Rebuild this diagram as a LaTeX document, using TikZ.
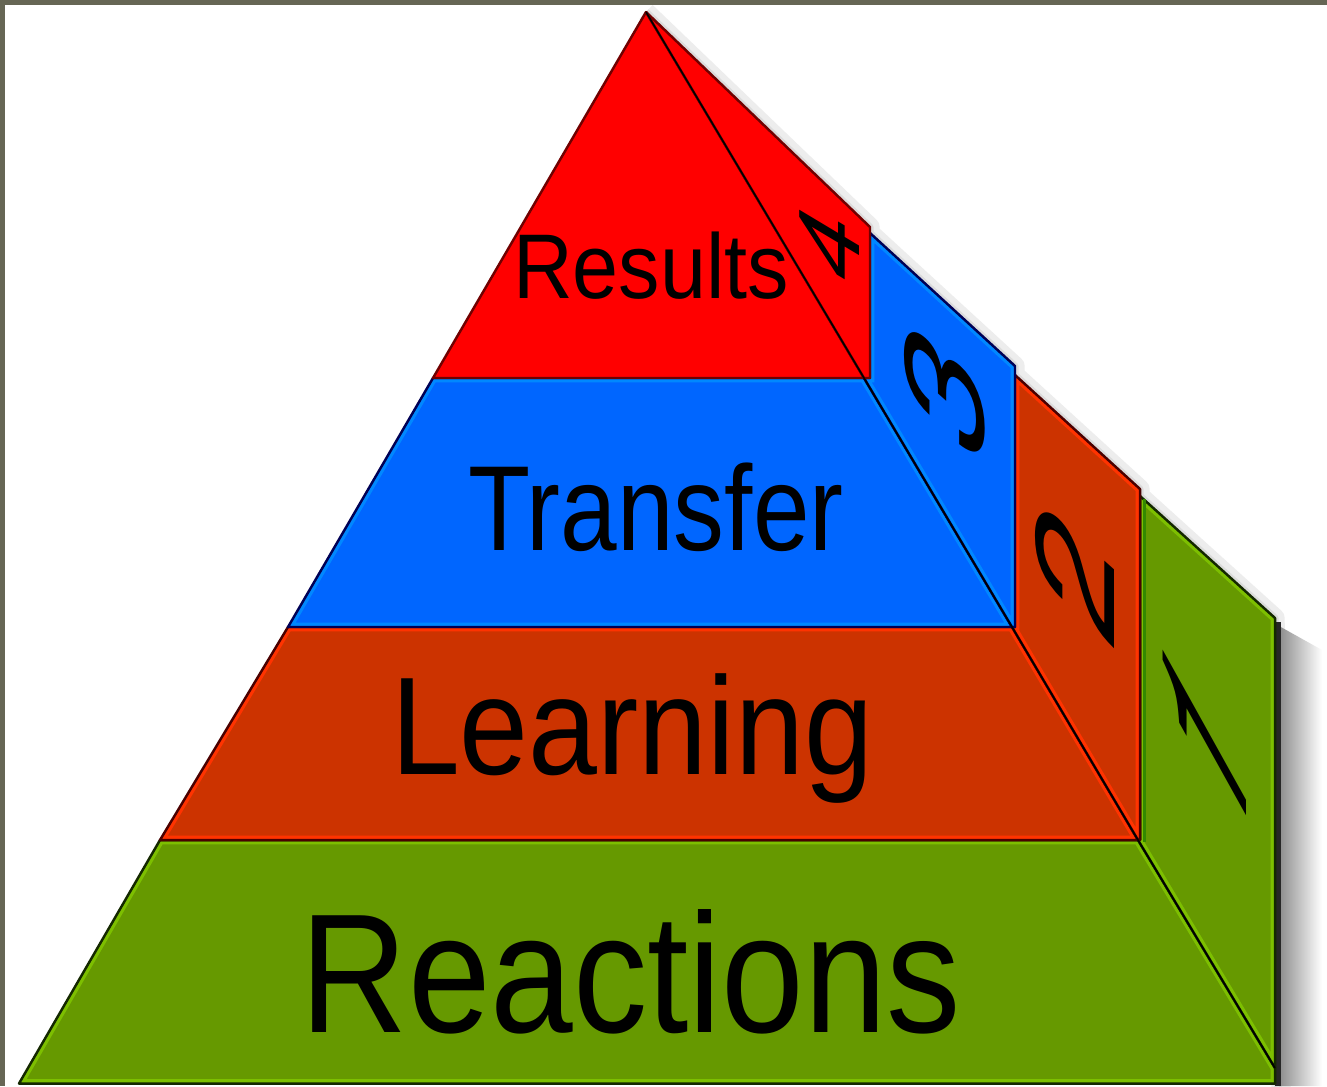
\documentclass[tikz,border=0pt]{standalone}
\usepackage{fontspec}
\setmainfont{Liberation Sans}
\newfontfamily\digitfont{TeX Gyre Heros}
\usepackage{graphicx}
\definecolor{redM}{HTML}{FF0000}
\definecolor{redD}{HTML}{700000}
\definecolor{blueM}{HTML}{0066FF}
\definecolor{blueH}{HTML}{0088FF}
\definecolor{blueD}{HTML}{000055}
\definecolor{orgM}{HTML}{CC3300}
\definecolor{orgH}{HTML}{FF3300}
\definecolor{orgD}{HTML}{4A0000}
\definecolor{grnM}{HTML}{669900}
\definecolor{grnH}{HTML}{7DBF00}
\definecolor{grnD}{HTML}{142800}
\definecolor{grnS}{HTML}{338800}
\definecolor{frameC}{HTML}{666655}
\newcommand\tierface[4]{%
  \begin{scope}
    \clip #1 -- cycle;
    \fill[#2] #1 -- cycle;
    \draw[#3, line width=5pt] #1 -- cycle;
  \end{scope}
  \draw[#4, line width=1.4pt, line join=round] #1 -- cycle;
}
\tikzset{
  tiertext/.style={anchor=base, inner sep=0pt, text=black},
  numlabel/.style={inner sep=0pt, transform shape, text=black},
}
\begin{document}
\begin{tikzpicture}[x=0.02cm, y=-0.02cm]
\useasboundingbox (0,0) rectangle (1327,1086);
\clip (0,0) rectangle (1327,1086);
\fill[white] (0,0) rectangle (1327,1086);
% frame strips
\fill[frameC] (0,0) rectangle (1327,4.5);
\fill[frameC] (0,0) rectangle (4.5,1086);

% key points
\coordinate (A) at (646,12);
\coordinate (L1) at (433,378);  \coordinate (D1) at (864,378);  \coordinate (E1) at (870,378);
\coordinate (L2) at (288,627);  \coordinate (D2) at (1012,627); \coordinate (E2) at (1015,627);
\coordinate (L3) at (160,840);  \coordinate (D3) at (1138,840); \coordinate (E3) at (1140,840);
\coordinate (L4) at (19,1083.5);  \coordinate (D4) at (1275,1068); \coordinate (E4) at (1275,1083.5);
\coordinate (T1a) at (870,227); \coordinate (T1b) at (870,233);
\coordinate (T2a) at (1015,366); \coordinate (T2b) at (1015,375);
\coordinate (T3a) at (1140,489); \coordinate (T3b) at (1140,496);
\coordinate (T4a) at (1275,618);

% soft shadow along the right silhouette
\begin{scope}[shift={(6,1)}]
  \draw[black!7, line width=11pt, line join=round]
    (A) -- (T1a) -- (T1b) -- (T2a) -- (T2b) -- (T3a) -- (T3b) -- (T4a) -- (1275,1090);
\end{scope}
\begin{scope}[shift={(3,1)}]
  \draw[black!14, line width=4pt, line join=round]
    (A) -- (T1a) -- (T1b) -- (T2a) -- (T2b) -- (T3a) -- (T3b) -- (T4a) -- (1275,1090);
\end{scope}
\shade[left color=black!45, right color=white] (1279,626) -- (1322,650) -- (1322,1086) -- (1279,1086) -- cycle;
\fill[black!85] (1275,622) rectangle (1281,1086);

% front faces
\tierface{(L3) -- (D3) -- (D4) -- (E4) -- (L4)}{grnM}{grnH}{grnD}
\tierface{(L2) -- (D2) -- (D3) -- (L3)}{orgM}{orgH}{orgD}
\tierface{(L1) -- (D1) -- (D2) -- (L2)}{blueM}{blueH}{blueD}
\tierface{(A) -- (D1) -- (L1)}{redM}{redM}{redD}

% side panels
\tierface{(T3b) -- (T4a) -- (D4) -- (D3) -- (E3)}{grnM}{grnH}{grnD}
\draw[grnS, line width=2.2pt] (1144.5,499) -- (1144.5,842);
\tierface{(T2b) -- (T3a) -- (E3) -- (D3) -- (D2) -- (E2)}{orgM}{orgH}{orgD}
\tierface{(T1b) -- (T2a) -- (E2) -- (D2) -- (D1) -- (E1)}{blueM}{blueH}{blueD}
\tierface{(A) -- (T1a) -- (E1) -- (D1)}{redM}{redM}{redD}

% diagonal edge of the front face
\draw[black, line width=0.9pt] (A) -- (D1) -- (D2) -- (D3) -- (D4);

% tier labels
\node[tiertext] (tRes) at (651,298) {\scalebox{0.90}[1]{\fontsize{52.3}{60}\selectfont Results}};
\node[tiertext] (tTra) at (656,550) {\scalebox{0.84}[1]{\fontsize{68.9}{76}\selectfont Transfer}};
\node[tiertext] (tLea) at (632,774) {\scalebox{0.89}[1]{\fontsize{79.2}{86}\selectfont Learning}};
\node[tiertext] (tRea) at (631,1032) {\scalebox{0.875}[1]{\fontsize{96.6}{104}\selectfont Reactions}};

% side numbers
\begin{scope}[shift={(830,243)}]
  \node[numlabel, cm={0,1.3,-1,0.6,(0,0)}, font=\digitfont\fontsize{48}{50}\selectfont] (n4) {4};
\end{scope}
\begin{scope}[shift={(945,390)}]
  \node[numlabel, cm={0,1.5,-1,0.9,(0,0)}, font=\digitfont\fontsize{63.5}{66}\selectfont] (n3) {3};
\end{scope}
\begin{scope}[shift={(1075,572)}]
  \node[numlabel, cm={0,1.5,-1,0.9,(0,0)}, font=\digitfont\fontsize{63.5}{66}\selectfont] (n2) {2};
\end{scope}
\begin{scope}[shift={(1205,737)}]
  \node[numlabel, cm={0,1.5,-1,1.8,(0,0)}, font=\digitfont\fontsize{67}{70}\selectfont] (n1) {1};
\end{scope}
\end{tikzpicture}
\end{document}
